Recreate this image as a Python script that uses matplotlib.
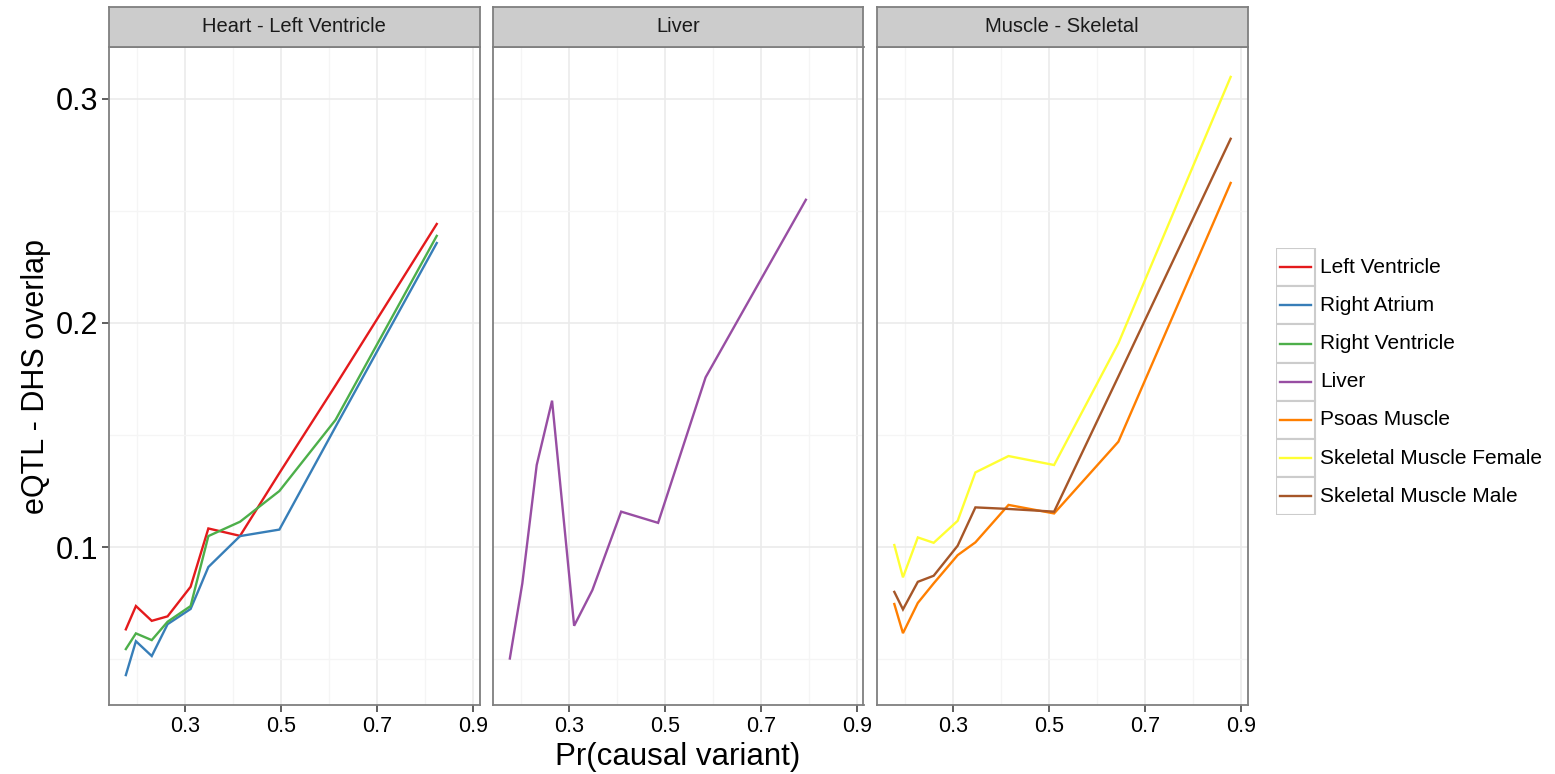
import numpy as np
import matplotlib
matplotlib.use("Agg")
import matplotlib.pyplot as plt
from matplotlib.patches import Rectangle

plt.rcParams['font.family'] = ['Liberation Sans', 'DejaVu Sans']

# x = mean Pr(causal variant) per bin, y = fraction of eQTLs overlapping DHS
x_heart = [0.176, 0.197, 0.230, 0.263, 0.311, 0.348, 0.414, 0.496, 0.613, 0.824]
left_ventricle = [0.0633, 0.0737, 0.0671, 0.0691, 0.0823, 0.1083, 0.1050, 0.1330, 0.1721, 0.2441]
right_atrium = [0.0429, 0.0580, 0.0514, 0.0656, 0.0724, 0.0911, 0.1049, 0.1078, 0.1536, 0.2356]
right_ventricle = [0.0545, 0.0615, 0.0585, 0.0667, 0.0737, 0.1049, 0.1113, 0.1250, 0.1567, 0.2388]

x_liver = [0.176, 0.202, 0.232, 0.264, 0.310, 0.348, 0.408, 0.485, 0.584, 0.793]
liver = [0.0503, 0.0838, 0.1366, 0.1653, 0.0649, 0.0808, 0.1158, 0.1108, 0.1757, 0.2549]

x_muscle = [0.177, 0.195, 0.226, 0.259, 0.309, 0.346, 0.415, 0.510, 0.644, 0.878]
psoas = [0.0746, 0.0616, 0.0751, 0.0838, 0.0964, 0.1021, 0.1188, 0.1150, 0.1470, 0.2624]
skm_female = [0.1009, 0.0865, 0.1043, 0.1019, 0.1117, 0.1333, 0.1406, 0.1366, 0.1909, 0.3097]
skm_male = [0.0800, 0.0722, 0.0845, 0.0872, 0.1006, 0.1177, 0.1170, 0.1158, 0.1761, 0.2821]

facets = ["Heart - Left Ventricle", "Liver", "Muscle - Skeletal"]
tissues = ["Left Ventricle", "Right Atrium", "Right Ventricle", "Liver",
           "Psoas Muscle", "Skeletal Muscle Female", "Skeletal Muscle Male"]
colors = ["#E41A1C", "#377EB8", "#4DAF4A", "#984EA3", "#FF7F00", "#FFFF33", "#A65628"]

series = [
    [(x_heart, left_ventricle, 0), (x_heart, right_atrium, 1), (x_heart, right_ventricle, 2)],
    [(x_liver, liver, 3)],
    [(x_muscle, psoas, 4), (x_muscle, skm_female, 5), (x_muscle, skm_male, 6)],
]

# shared scales with 5% expansion like ggplot
all_x = x_heart + x_liver + x_muscle
all_y = left_ventricle + right_atrium + right_ventricle + liver + psoas + skm_female + skm_male
dx = (max(all_x) - min(all_x)) * 0.05
dy = (max(all_y) - min(all_y)) * 0.05
xlim = (min(all_x) - dx, max(all_x) + dx)
ylim = (min(all_y) - dy, max(all_y) + dy)

W, H = 1555, 774
fig = plt.figure(figsize=(W / 100, H / 100), dpi=100)

def px_axes(left, top, width, height):
    return fig.add_axes([left / W, 1 - (top + height) / H, width / W, height / H])

lefts = [109, 493, 877]
pw = 370.5
ptop, pbot = 47, 705
border = "#7F7F7F"

for i, left in enumerate(lefts):
    ax = px_axes(left, ptop, pw, pbot - ptop)
    ax.set_xlim(xlim)
    ax.set_ylim(ylim)
    ax.set_xticks([0.3, 0.5, 0.7, 0.9])
    ax.set_xticks([0.2, 0.4, 0.6, 0.8], minor=True)
    ax.set_yticks([0.1, 0.2, 0.3])
    ax.set_yticks([0.05, 0.15, 0.25], minor=True)
    ax.grid(True, which="major", color="#EBEBEB", linewidth=1.2)
    ax.grid(True, which="minor", color="#F5F5F5", linewidth=1.0)
    ax.set_axisbelow(True)
    for s in ax.spines.values():
        s.set_color(border)
        s.set_linewidth(1.3)
    ax.tick_params(which="minor", length=0)
    ax.tick_params(which="major", direction="out", length=5, width=1.1,
                   color="#333333", labelsize=15.5, pad=3)
    ax.tick_params(axis="y", labelsize=22, pad=3)
    ax.xaxis.set_major_formatter(matplotlib.ticker.FormatStrFormatter("%.1f"))
    ax.yaxis.set_major_formatter(matplotlib.ticker.FormatStrFormatter("%.1f"))
    if i > 0:
        ax.tick_params(axis="y", length=0, labelleft=False)

    for xs, ys, k in series[i]:
        ax.plot(xs, ys, color=colors[k], linewidth=1.7, solid_joinstyle="miter")

    # facet strip
    sax = px_axes(left, 7, pw, 40)
    sax.set_facecolor("#CCCCCC")
    sax.set_xticks([])
    sax.set_yticks([])
    for s in sax.spines.values():
        s.set_color(border)
        s.set_linewidth(1.3)
    sax.text(0.5, 0.5, facets[i], ha="center", va="center",
             fontsize=14.5, color="#1A1A1A", transform=sax.transAxes)

fig.text(678 / W, 1 - 757 / H, "Pr(causal variant)", ha="center", va="center", fontsize=22.5)
fig.text(36 / W, 1 - 376 / H, "eQTL - DHS overlap", ha="center", va="center",
         rotation=90, fontsize=22)

# legend with boxed keys
key_h = 38.2
lax = px_axes(1276, 248, 275, key_h * 7)
lax.set_xlim(0, 275)
lax.set_ylim(key_h * 7, 0)
lax.axis("off")
for k, name in enumerate(tissues):
    y0 = k * key_h
    lax.add_patch(Rectangle((0, y0), 39, key_h, facecolor="white",
                            edgecolor="#CCCCCC", linewidth=1.5))
    lax.plot([4, 35], [y0 + key_h / 2, y0 + key_h / 2], color=colors[k], linewidth=1.7)
    lax.text(44, y0 + key_h / 2, name, ha="left", va="center", fontsize=15)

fig.savefig("out.png", dpi=100, facecolor="white")
